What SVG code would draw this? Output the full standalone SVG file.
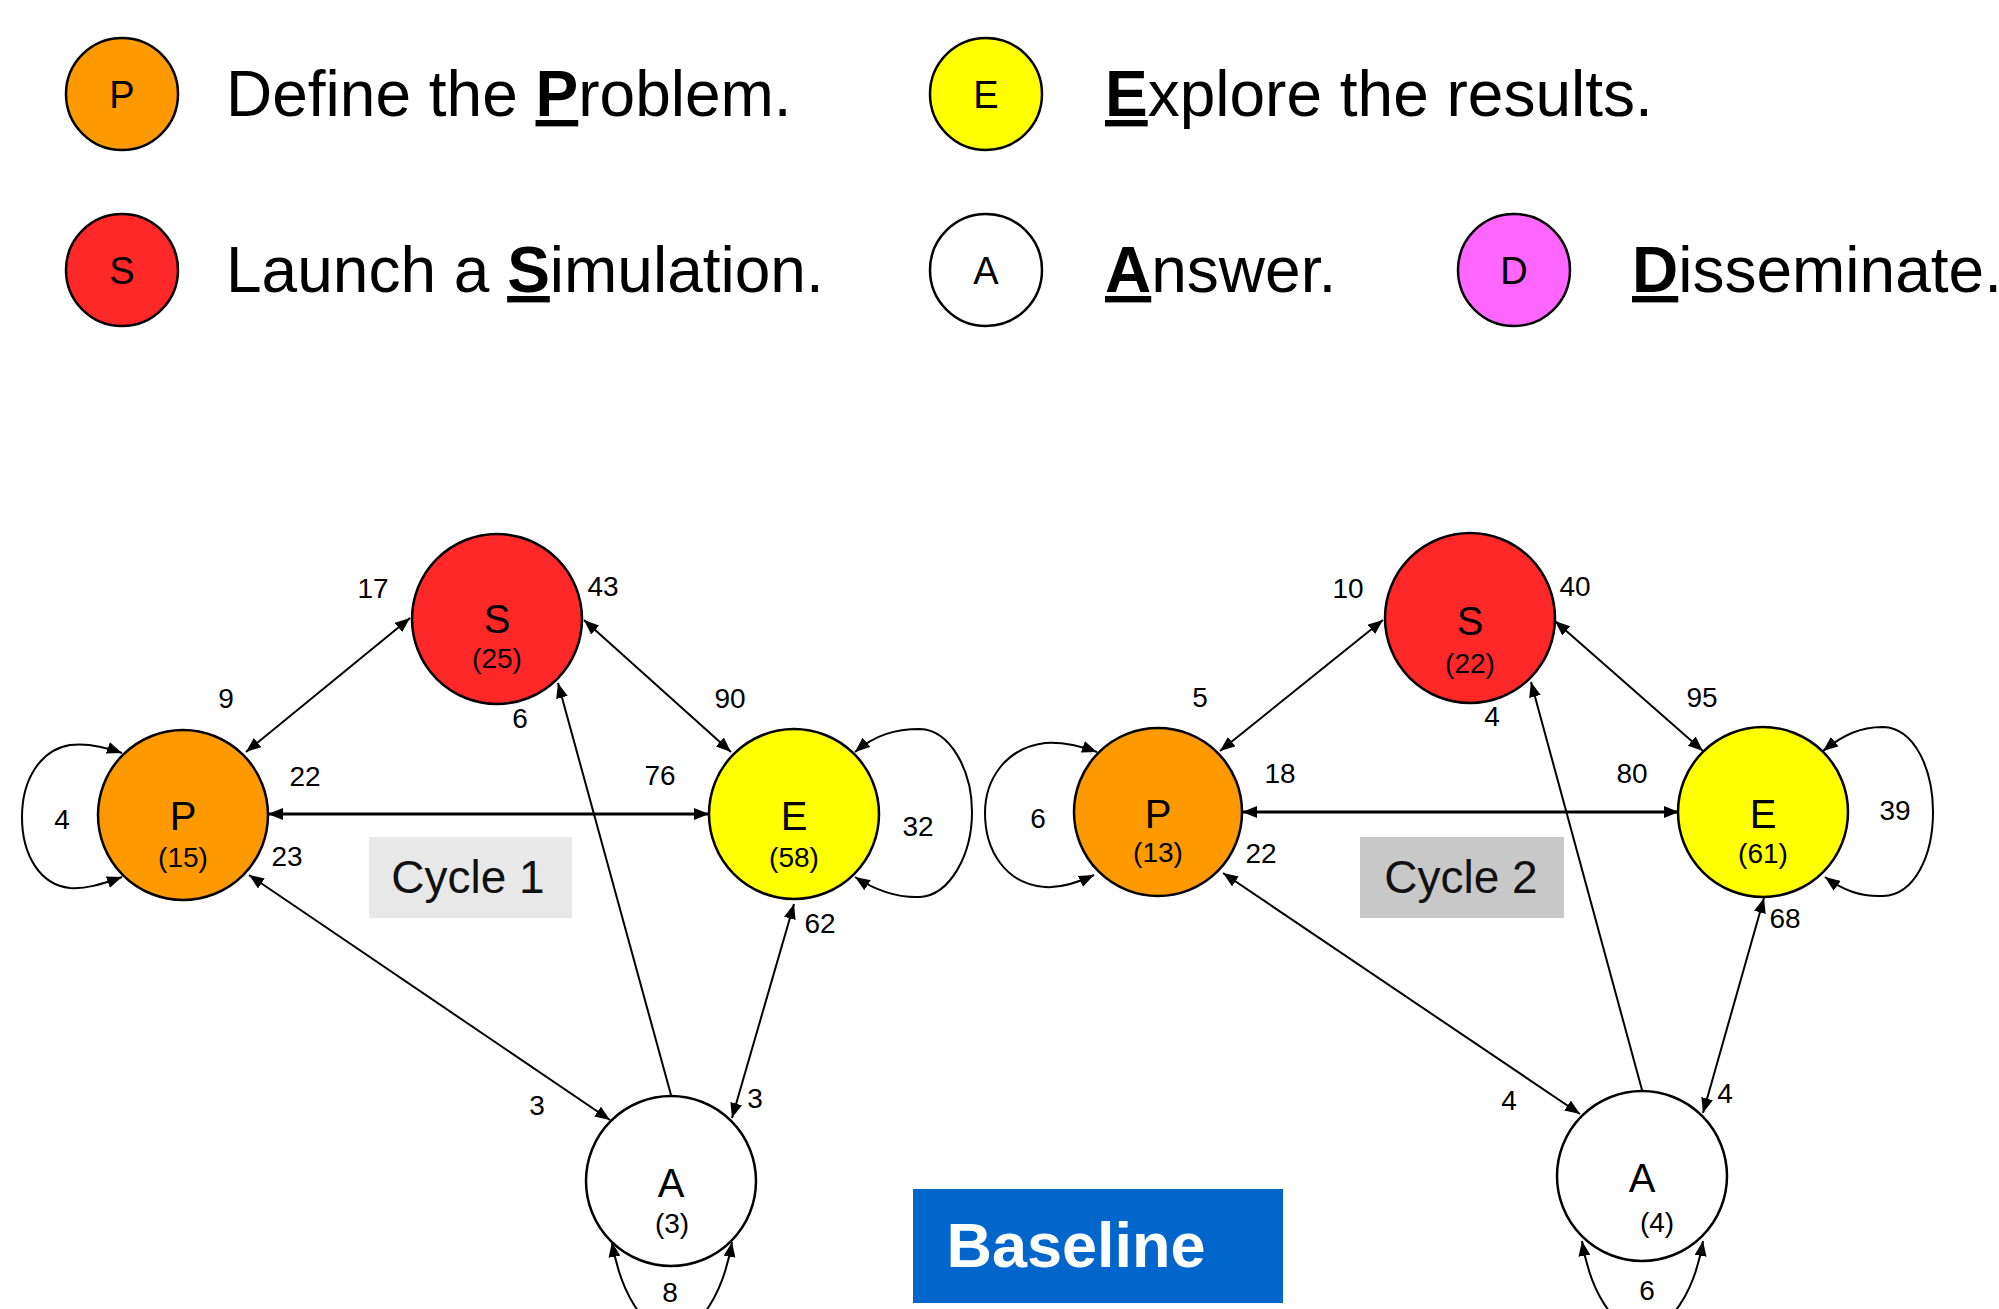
<svg xmlns="http://www.w3.org/2000/svg" width="1999" height="1309" viewBox="0 0 1999 1309">
<style>
  .nd { stroke: #000; stroke-width: 2.5; }
  .p { fill: #ff9900; } .s { fill: #ff2828; } .e { fill: #ffff00; } .a { fill: #ffffff; } .d { fill: #ff66ff; }
  text { font-family: "Liberation Sans", Arial, sans-serif; fill: #000; }
  .leg { font-size: 64px; }
  .b { font-weight: bold; text-decoration: underline; }
  .ll { font-size: 38px; text-anchor: middle; }
  .nl { font-size: 40px; text-anchor: middle; }
  .nc { font-size: 28px; text-anchor: middle; }
  .el { font-size: 28px; text-anchor: middle; }
  .cy { font-size: 46px; text-anchor: middle; fill: #111; }
  .edge { fill: none; stroke: #000; stroke-width: 2; }
  .bi { marker-start: url(#ah); marker-end: url(#ah); }
  .uni { marker-end: url(#ah); }
  .thick { stroke-width: 3; }
</style>
<defs>
  <marker id="ah" viewBox="0 0 15 12" refX="15" refY="6" markerWidth="15" markerHeight="12" markerUnits="userSpaceOnUse" orient="auto-start-reverse">
    <path d="M0,0 L15,6 L0,12 z" fill="#000"/>
  </marker>
</defs>
<rect width="1999" height="1309" fill="#fff"/>

<!-- Legend -->
<g id="legend-p"><circle class="nd p" cx="122" cy="94" r="56"/><text class="ll" x="122" y="108">P</text>
  <text class="leg" x="226" y="116">Define the <tspan class="b">P</tspan>roblem.</text></g>
<g id="legend-e"><circle class="nd e" cx="986" cy="94" r="56"/><text class="ll" x="986" y="108">E</text>
  <text class="leg" x="1105" y="116"><tspan class="b">E</tspan>xplore the results.</text></g>
<g id="legend-s"><circle class="nd s" cx="122" cy="270" r="56"/><text class="ll" x="122" y="284">S</text>
  <text class="leg" x="226" y="292">Launch a <tspan class="b">S</tspan>imulation.</text></g>
<g id="legend-a"><circle class="nd a" cx="986" cy="270" r="56"/><text class="ll" x="986" y="284">A</text>
  <text class="leg" x="1105" y="292"><tspan class="b">A</tspan>nswer.</text></g>
<g id="legend-d"><circle class="nd d" cx="1514" cy="270" r="56"/><text class="ll" x="1514" y="284">D</text>
  <text class="leg" x="1632" y="292"><tspan class="b">D</tspan>isseminate.</text></g>

<!-- Cycle labels -->
<g id="cycle1-label"><rect x="369" y="837" width="203" height="81" fill="#e8e8e8"/><text class="cy" x="468" y="893">Cycle 1</text></g>
<g id="cycle2-label"><rect x="1360" y="837" width="204" height="81" fill="#c8c8c8"/><text class="cy" x="1461" y="893">Cycle 2</text></g>
<g id="baseline-label"><rect x="913" y="1189" width="370" height="114" fill="#0066cc"/><text x="1076" y="1267" font-size="63" font-weight="bold" text-anchor="middle" style="fill:#fff">Baseline</text></g>

<!-- Connectors -->
<g id="connectors">
  <!-- Cycle 1 -->
  <line class="edge bi" x1="246" y1="752" x2="410" y2="618"/>
  <line class="edge bi" x1="584" y1="620" x2="731" y2="752"/>
  <line class="edge bi thick" x1="268" y1="814" x2="709" y2="814"/>
  <line class="edge uni" x1="671" y1="1095" x2="558" y2="683"/>
  <line class="edge bi" x1="249" y1="875" x2="610" y2="1120"/>
  <line class="edge bi" x1="794" y1="904" x2="732" y2="1118"/>
  <path class="edge bi" d="M122,753 C100,745 85,743 70,745 C40,750 22,780 22,817 C22,855 40,885 70,888 C85,889 100,885 122,877"/>
  <path class="edge bi" d="M855,752 C875,735 895,729 920,729 C950,730 972,770 972,812 C972,855 950,895 920,897 C895,898 875,890 855,877"/>
  <path class="edge bi" d="M612,1242 C620,1290 643,1332 672,1332 C701,1332 724,1290 732,1242"/>
  <!-- Cycle 2 -->
  <line class="edge bi" x1="1220" y1="751" x2="1383" y2="620"/>
  <line class="edge bi" x1="1555" y1="621" x2="1703" y2="751"/>
  <line class="edge bi thick" x1="1242" y1="812" x2="1679" y2="812"/>
  <line class="edge uni" x1="1642" y1="1090" x2="1531" y2="682"/>
  <line class="edge bi" x1="1223" y1="873" x2="1580" y2="1114"/>
  <line class="edge bi" x1="1764" y1="898" x2="1703" y2="1113"/>
  <path class="edge bi" d="M1097,752 C1075,744 1060,742 1045,743 C1005,748 985,780 985,813 C985,850 1005,884 1045,887 C1060,888 1075,884 1094,875"/>
  <path class="edge bi" d="M1823,751 C1843,735 1860,727 1883,727 C1915,728 1933,770 1933,812 C1933,855 1915,895 1883,896 C1860,897 1843,890 1825,877"/>
  <path class="edge bi" d="M1582,1241 C1590,1290 1613,1330 1642,1330 C1671,1330 1695,1290 1703,1241"/>
</g>

<!-- Edge labels -->
<g id="edge-labels">
  <text class="el" x="373" y="598">17</text>
  <text class="el" x="603" y="596">43</text>
  <text class="el" x="226" y="708">9</text>
  <text class="el" x="730" y="708">90</text>
  <text class="el" x="520" y="728">6</text>
  <text class="el" x="305" y="786">22</text>
  <text class="el" x="660" y="785">76</text>
  <text class="el" x="62" y="829">4</text>
  <text class="el" x="918" y="836">32</text>
  <text class="el" x="287" y="866">23</text>
  <text class="el" x="820" y="933">62</text>
  <text class="el" x="537" y="1115">3</text>
  <text class="el" x="755" y="1108">3</text>
  <text class="el" x="670" y="1302">8</text>
  <text class="el" x="1348" y="598">10</text>
  <text class="el" x="1575" y="596">40</text>
  <text class="el" x="1200" y="707">5</text>
  <text class="el" x="1702" y="707">95</text>
  <text class="el" x="1492" y="726">4</text>
  <text class="el" x="1280" y="783">18</text>
  <text class="el" x="1632" y="783">80</text>
  <text class="el" x="1038" y="828">6</text>
  <text class="el" x="1895" y="820">39</text>
  <text class="el" x="1261" y="863">22</text>
  <text class="el" x="1785" y="928">68</text>
  <text class="el" x="1509" y="1110">4</text>
  <text class="el" x="1725" y="1103">4</text>
  <text class="el" x="1647" y="1300">6</text>
</g>

<!-- Cycle 1 nodes -->
<g id="c1-S"><circle class="nd s" cx="497" cy="619" r="85"/><text class="nl" x="497" y="633">S</text><text class="nc" x="497" y="668">(25)</text></g>
<g id="c1-P"><circle class="nd p" cx="183" cy="815" r="85"/><text class="nl" x="183" y="830">P</text><text class="nc" x="183" y="867">(15)</text></g>
<g id="c1-E"><circle class="nd e" cx="794" cy="814" r="85"/><text class="nl" x="794" y="830">E</text><text class="nc" x="794" y="867">(58)</text></g>
<g id="c1-A"><circle class="nd a" cx="671" cy="1181" r="85"/><text class="nl" x="671" y="1197">A</text><text class="nc" x="672" y="1233">(3)</text></g>

<!-- Cycle 2 nodes -->
<g id="c2-S"><circle class="nd s" cx="1470" cy="618" r="85"/><text class="nl" x="1470" y="635">S</text><text class="nc" x="1470" y="673">(22)</text></g>
<g id="c2-P"><circle class="nd p" cx="1158" cy="812" r="84"/><text class="nl" x="1158" y="828">P</text><text class="nc" x="1158" y="862">(13)</text></g>
<g id="c2-E"><circle class="nd e" cx="1763" cy="812" r="85"/><text class="nl" x="1763" y="828">E</text><text class="nc" x="1763" y="863">(61)</text></g>
<g id="c2-A"><circle class="nd a" cx="1642" cy="1176" r="85"/><text class="nl" x="1642" y="1192">A</text><text class="nc" x="1657" y="1232">(4)</text></g>
</svg>
